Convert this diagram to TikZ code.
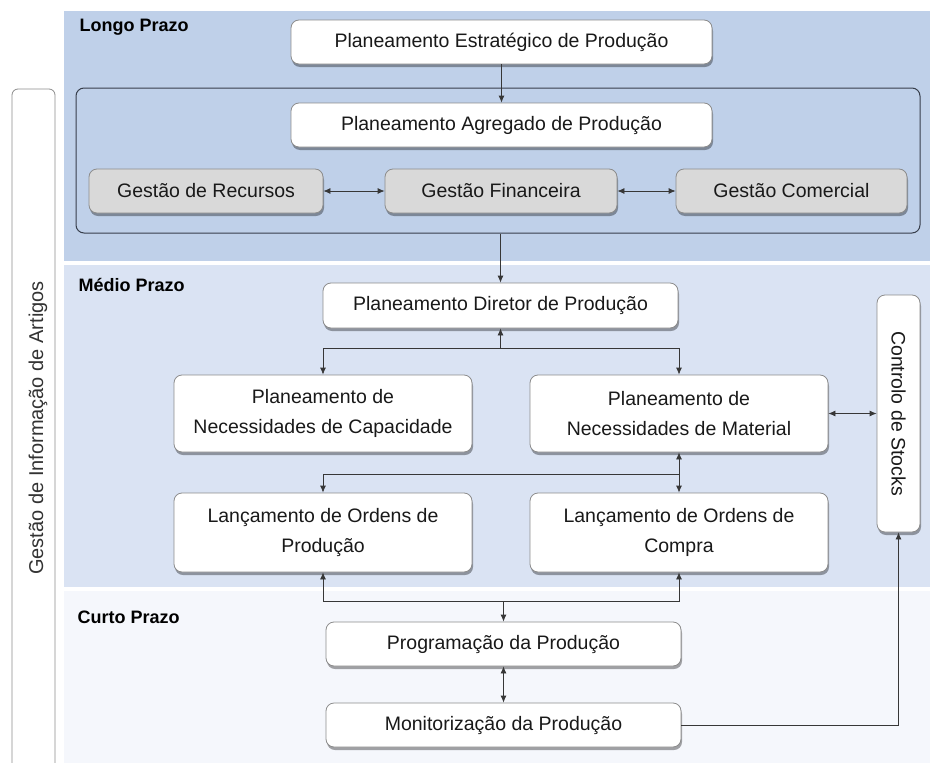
\documentclass[tikz,border=0pt]{standalone}
\usepackage{fontspec}
\setmainfont{Liberation Sans}
\usepackage{tikz}
\usetikzlibrary{%
  calc,%
  shadows,%
  arrows.meta%
}
\definecolor{longo}{RGB}{191,208,233}
\definecolor{medio}{RGB}{218,227,243}
\definecolor{curto}{RGB}{245,247,252}
\definecolor{cinza}{RGB}{217,217,217}
\definecolor{traco}{RGB}{55,55,55}
\definecolor{moldura}{RGB}{55,62,75}

\begin{document}
\begin{tikzpicture}[x=1pt,y=-1pt,
  caixa/.style={draw=black!45,line width=0.8pt,fill=white,rounded corners=8pt,inner sep=0pt,align=center,
    text=black!90,font=\fontsize{19.5}{30}\selectfont,
    drop shadow={shadow xshift=1pt,shadow yshift=-3pt,fill=black,opacity=0.35}},
  cinzenta/.style={caixa,fill=cinza},
  prazo/.style={anchor=base west,font=\fontsize{18}{18}\selectfont\bfseries},
  seta/.style={draw=traco,line width=0.8pt,-{Latex[length=7pt,width=6pt]}},
  setas/.style={draw=traco,line width=0.8pt,{Latex[length=7pt,width=6pt]}-{Latex[length=7pt,width=6pt]}}]
\useasboundingbox (0,0) rectangle (930,763);
\clip (0,0) rectangle (930,763);

\fill[longo] (64,11) rectangle (930,261);
\fill[medio] (64,265) rectangle (930,587);
\fill[curto] (64,591) rectangle (930,763);

\draw[black!45,line width=0.8pt,fill=white,rounded corners=6pt] (12,89) rectangle (55,800);
\node[rotate=90,text=black!80,font=\fontsize{20}{20}\selectfont] (artigos) at (38,428) {Gestão de Informação de Artigos};

\node[prazo] (lp) at (76,31) {Longo Prazo};
\node[prazo] (mpz) at (75,291) {Médio Prazo};
\node[prazo] (cp) at (74,623) {Curto Prazo};

\node[draw=moldura,line width=1pt,rounded corners=8pt,minimum width=844pt,minimum height=145pt] (grupo) at (498,160.5) {};

\node[caixa,minimum width=421pt,minimum height=44pt] (pep) at (501.5,42) {Planeamento Estratégico de Produção};
\node[caixa,minimum width=421pt,minimum height=44pt] (pap) at (501.5,125) {Planeamento Agregado de Produção};
\node[cinzenta,minimum width=234pt,minimum height=44pt] (gr) at (206,191) {Gestão de Recursos};
\node[cinzenta,minimum width=232pt,minimum height=44pt] (gf) at (501,191) {Gestão Financeira};
\node[cinzenta,minimum width=231pt,minimum height=44pt] (gc) at (791.5,191) {Gestão Comercial};

\node[caixa,minimum width=355pt,minimum height=45pt] (pdp) at (500.5,305.5) {Planeamento Diretor de Produção};
\node[caixa,minimum width=298pt,minimum height=77pt] (pnc) at (323,413.5) {Planeamento de\\Necessidades de Capacidade};
\node[caixa,minimum width=298pt,minimum height=77pt] (pnm) at (679,413.5) {Planeamento de\\Necessidades de Material};
\node[caixa,minimum width=298pt,minimum height=79pt] (lop) at (323,532.5) {Lançamento de Ordens de\\Produção};
\node[caixa,minimum width=298pt,minimum height=79pt] (loc) at (679,532.5) {Lançamento de Ordens de\\Compra};
\node[caixa,rotate=-90,minimum width=237pt,minimum height=43pt] (cs) at (898.5,413.5) {Controlo de Stocks};

\node[caixa,minimum width=355pt,minimum height=44pt] (pp) at (503.5,644) {Programação da Produção};
\node[caixa,minimum width=355pt,minimum height=44pt] (mp) at (503.5,725) {Monitorização da Produção};

\draw[seta] (pep) -- (pap);
\draw[setas] (gr) -- (gf);
\draw[setas] (gf) -- (gc);
\draw[seta] (pdp.north |- grupo.south) -- (pdp.north);

\draw[seta] ($(pdp.south)+(0,20)$) coordinate (j1) -- (pdp.south);
\draw[seta] (j1) -| (pnc.north);
\draw[seta] (j1) -| (pnm.north);

\draw[setas] (pnm.east) -- (pnm.east -| cs.south);
\draw[setas] (pnm.south) -- (loc.north);
\draw[seta] ($(pnm.south)!0.55!(loc.north)$) -| (lop.north);

\draw[seta] ($(pp.north)+(0,-20)$) coordinate (j3) -- (pp.north);
\draw[seta] (j3) -| (lop.south);
\draw[seta] (j3) -| (loc.south);

\draw[setas] (pp) -- (mp);
\draw[seta] (mp.east) -| (cs.east);
\end{tikzpicture}
\end{document}
